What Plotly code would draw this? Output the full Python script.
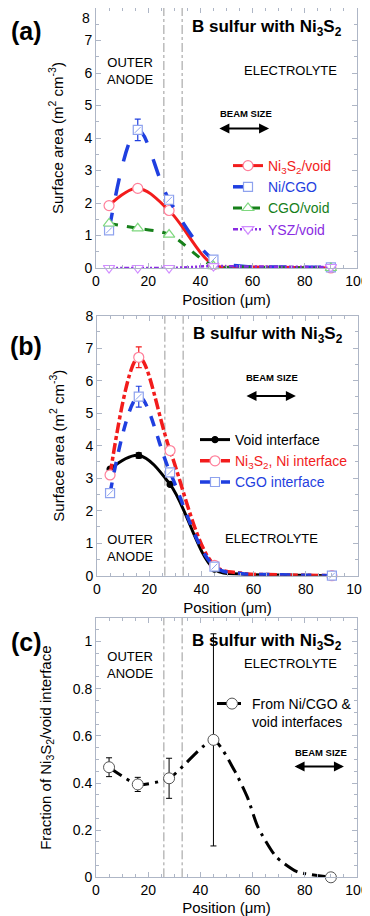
import plotly.graph_objects as go

# ---------------- data ----------------
pos = [5, 16, 28, 45, 90]
tail_x = [55, 70]

# panel (a)
a_ni3s2_void = [1.92, 2.45, 1.77, 0.10, 0.0]
a_ni3s2_void_tail = [0.04, 0.02]
a_ni_cgo = [1.16, 4.25, 2.10, 0.26, 0.02]
a_ni_cgo_err = [None, 0.33, None, None, None]
a_ni_cgo_tail = [0.06, 0.03]
a_cgo_void = [1.37, 1.22, 1.03, 0.06, 0.0]
a_cgo_void_tail = [0.03, 0.01]
a_ysz_void = [0.0, 0.0, 0.0, 0.06, 0.03]
a_ysz_void_tail = [0.05, 0.04]

# panel (b)
b_void = [3.28, 3.70, 2.81, 0.20, 0.0]
b_void_err = [None, 0.08, None, None, None]
b_void_tail = [0.05, 0.02]
b_ni3s2_ni = [3.10, 6.72, 3.85, 0.32, 0.0]
b_ni3s2_ni_err = [None, 0.32, None, None, None]
b_ni3s2_ni_tail = [0.08, 0.03]
b_cgo = [2.54, 5.51, 3.18, 0.28, 0.0]
b_cgo_err = [None, 0.32, None, None, None]
b_cgo_tail = [0.07, 0.03]

# panel (c)
c_frac = [0.467, 0.394, 0.42, 0.583, 0.0]
c_frac_err = [0.04, 0.03, 0.085, 0.45, None]
c_curve_x = [5, 16, 28, 45, 53, 58, 62, 69, 77, 90]
c_curve_y = [0.467, 0.394, 0.42, 0.583, 0.454, 0.34, 0.214, 0.087, 0.024, 0.0]

boundaries = [26, 33]
area_ticks = [0, 1, 2, 3, 4, 5, 6, 7, 8]
frac_ticks = [0, 0.2, 0.4, 0.6, 0.8, 1]
frac_ticktext = ["0", "0.2", "0.4", "0.6", "0.8", "1"]

# ---------------- style ----------------
FONT = "Liberation Sans, Arial, sans-serif"
RED = "#f21c1c"
RED_M = "#ff7f9a"
BLUE = "#1f3fe0"
BLUE_M = "#8ea2ee"
GREEN = "#16801a"
GREEN_M = "#7fd87f"
PURPLE = "#8a2be2"
PURPLE_M = "#d08cff"
FRAME = "#aeb6c6"

# page has an 8px body margin: figure is 362x908 placed at (8, 8)
OFF = 8
W, H = 370 - OFF, 916 - OFF


def fx(px):
    return (px - OFF) / W


def fy(py):
    return min(1.0, 1 - (py - OFF) / H)


fig = go.Figure()


def curve(vals, tail):
    return pos[:4] + tail_x + [pos[4]], vals[:4] + tail + [vals[4]]


def add_series(xa, ya, legend, name, vals, tail, color, dash, width,
               msym, msize, mfill, mline, err=None, slash=False, smooth=1.0):
    cx, cy = curve(vals, tail)
    fig.add_trace(go.Scatter(x=cx, y=cy, mode="lines", xaxis=xa, yaxis=ya,
                             line=dict(color=color, width=width, dash=dash,
                                       shape="spline", smoothing=smooth),
                             showlegend=False, hoverinfo="skip"))
    ey = None
    if err is not None:
        ey = dict(type="data", array=err, visible=True, color=color,
                  thickness=1.2, width=3)
    fig.add_trace(go.Scatter(x=pos, y=vals, mode="markers", xaxis=xa, yaxis=ya,
                             marker=dict(symbol=msym, size=msize, color=mfill,
                                         line=dict(color=mline, width=1.2)),
                             error_y=ey, showlegend=False, cliponaxis=False))
    if slash:
        fig.add_trace(go.Scatter(x=pos, y=vals, mode="markers", xaxis=xa, yaxis=ya,
                                 marker=dict(symbol="line-ne", size=msize - 3,
                                             line=dict(color=mline, width=1)),
                                 showlegend=False, cliponaxis=False, hoverinfo="skip"))
    fig.add_trace(go.Scatter(x=[None], y=[None], mode="lines+markers", xaxis=xa, yaxis=ya,
                             name=name, legend=legend,
                             line=dict(color=color, width=width, dash=dash),
                             marker=dict(symbol=msym, size=msize, color=mfill,
                                         line=dict(color=mline, width=1.2))))


# panel (a)
add_series("x", "y", "legend", f"<span style='color:{RED}'>Ni<sub>3</sub>S<sub>2</sub>/void</span>",
           a_ni3s2_void, a_ni3s2_void_tail, RED, "solid", 3, "circle", 10, "white", RED_M)
add_series("x", "y", "legend", f"<span style='color:{BLUE}'>Ni/CGO</span>",
           a_ni_cgo, a_ni_cgo_tail, BLUE, "longdash", 3.5, "square", 9, "white", BLUE_M,
           err=a_ni_cgo_err, slash=True)
add_series("x", "y", "legend", f"<span style='color:{GREEN}'>CGO/void</span>",
           a_cgo_void, a_cgo_void_tail, GREEN, "dash", 3, "triangle-up", 10, "white", GREEN_M)
add_series("x", "y", "legend", f"<span style='color:{PURPLE}'>YSZ/void</span>",
           a_ysz_void, a_ysz_void_tail, PURPLE, "5px,2px,2px,2px,2px,2px", 2.5,
           "triangle-down", 10, "white", PURPLE_M)

# panel (b)
add_series("x2", "y2", "legend2", "Void interface",
           b_void, b_void_tail, "black", "solid", 3, "circle", 6, "black", "black",
           err=b_void_err)
add_series("x2", "y2", "legend2", f"<span style='color:{RED}'>Ni<sub>3</sub>S<sub>2</sub>, Ni interface</span>",
           b_ni3s2_ni, b_ni3s2_ni_tail, RED, "11px,3px,4px,3px", 3.5, "circle", 10, "white", RED_M,
           err=b_ni3s2_ni_err)
add_series("x2", "y2", "legend2", f"<span style='color:{BLUE}'>CGO interface</span>",
           b_cgo, b_cgo_tail, BLUE, "dash", 3.5, "square", 9, "white", BLUE_M,
           err=b_cgo_err, slash=True)

# panel (c)
fig.add_trace(go.Scatter(x=c_curve_x, y=c_curve_y, mode="lines", xaxis="x3", yaxis="y3",
                         line=dict(color="black", width=3, dash="longdashdot",
                                   shape="spline", smoothing=0.6),
                         showlegend=False, hoverinfo="skip"))
fig.add_trace(go.Scatter(x=pos, y=c_frac, mode="markers", xaxis="x3", yaxis="y3",
                         marker=dict(symbol="circle", size=11, color="white",
                                     line=dict(color="#555555", width=1)),
                         error_y=dict(type="data", array=c_frac_err, visible=True,
                                      color="black", thickness=1, width=3),
                         showlegend=False, cliponaxis=False))
fig.add_trace(go.Scatter(x=[None], y=[None], mode="lines+markers", xaxis="x3", yaxis="y3",
                         name="From Ni/CGO &<br>void interfaces", legend="legend3",
                         line=dict(color="black", width=3, dash="longdashdot"),
                         marker=dict(symbol="circle", size=11, color="white",
                                     line=dict(color="#555555", width=1))))

# ---------------- axes ----------------
axis_common = dict(showline=True, linecolor=FRAME, linewidth=1, mirror="allticks",
                   ticks="inside", ticklen=5, tickcolor=FRAME, showgrid=False,
                   zeroline=False, automargin=False,
                   tickfont=dict(size=14, color="black", family=FONT))
xdom_a = [fx(96), fx(357)]
xdom_b = [fx(97), fx(358)]
xt = dict(range=[0, 100], dtick=20, tick0=0,
          minor=dict(dtick=5, ticks="inside", ticklen=3, tickcolor=FRAME),
          title=dict(text="Position (\u03bcm)", font=dict(size=15, color="black"), standoff=6))
ytitle_area = dict(text="Surface area (m<sup>2</sup> cm<sup>-3</sup>)",
                   font=dict(size=15, color="black"), standoff=17)

fig.update_layout(
    xaxis=dict(domain=xdom_a, anchor="y", **xt, **axis_common),
    # top label of panel (a) sits at the page edge; it is drawn as an annotation below
    yaxis=dict(domain=[fy(268), fy(7)], anchor="x", range=[0, 8],
               tickvals=area_ticks, ticktext=[str(t) for t in area_ticks[:-1]] + [""],
               minor=dict(dtick=0.5, ticks="inside", ticklen=3, tickcolor=FRAME),
               title=ytitle_area, **axis_common),
    xaxis2=dict(domain=xdom_b, anchor="y2", **xt, **axis_common),
    yaxis2=dict(domain=[fy(575.7), fy(315.7)], anchor="x2", range=[0, 8],
                tickvals=area_ticks,
                minor=dict(dtick=0.5, ticks="inside", ticklen=3, tickcolor=FRAME),
                title=ytitle_area, **axis_common),
    xaxis3=dict(domain=xdom_a, anchor="y3", **xt, **axis_common),
    yaxis3=dict(domain=[fy(877.3), fy(618)], anchor="x3", range=[0, 1.1],
                tickvals=frac_ticks, ticktext=frac_ticktext,
                minor=dict(dtick=0.05, ticks="inside", ticklen=3, tickcolor=FRAME),
                title=dict(text="Fraction of Ni<sub>3</sub>S<sub>2</sub>/void interface",
                           font=dict(size=15, color="black"), standoff=17),
                **axis_common),
)

# boundary lines
shapes = []
for xa, ya in [("x", "y"), ("x2", "y2"), ("x3", "y3")]:
    for b in boundaries:
        shapes.append(dict(type="line", xref=xa, yref=f"{ya} domain", x0=b, x1=b, y0=0, y1=1,
                           line=dict(color="#9a9a9a", width=1, dash="dashdot"), layer="below"))
fig.update_layout(shapes=shapes)

# ---------------- annotations ----------------
ann = []
ann.append(dict(xref="paper", yref="paper", x=fx(91), y=fy(9), text=str(area_ticks[-1]),
                xanchor="right", yanchor="top", showarrow=False, borderpad=0,
                font=dict(size=14, color="black")))
title_txt = "<b>B sulfur with Ni<sub>3</sub>S<sub>2</sub></b>"
for xa, ya, ty in [("x", "y", 7.38), ("x2", "y2", 7.4), ("x3", "y3", 1.0)]:
    ann.append(dict(xref=xa, yref=ya, x=65.5, y=ty, text=title_txt, showarrow=False,
                    font=dict(size=17, color="black")))
for lbl, py in [("(a)", 31), ("(b)", 346), ("(c)", 642)]:
    ann.append(dict(xref="paper", yref="paper", x=fx(26), y=fy(py), text=f"<b>{lbl}</b>",
                    xanchor="center", yanchor="middle",
                    showarrow=False, font=dict(size=25, color="black")))
# region labels
for xa, ya, ox, oy, ex, ey in [("x", "y", 13.4, 6.06, 74.7, 6.09),
                               ("x2", "y2", 13.0, 0.85, 67.0, 1.13),
                               ("x3", "y3", 13.4, 0.9, 74.7, 0.906)]:
    ann.append(dict(xref=xa, yref=ya, x=ox, y=oy, text="OUTER<br>ANODE", showarrow=False,
                    font=dict(size=13, color="black")))
    ann.append(dict(xref=xa, yref=ya, x=ex, y=ey, text="ELECTROLYTE", showarrow=False,
                    font=dict(size=13, color="black")))
# beam size
for xa, ya, tx, ty, x0, x1, yy in [("x", "y", 57.5, 4.74, 46.7, 66.3, 4.29),
                                   ("x2", "y2", 67.0, 6.11, 56.7, 76.2, 5.53),
                                   ("x3", "y3", 86.2, 0.53, 75.5, 95.0, 0.47)]:
    ann.append(dict(xref=xa, yref=ya, x=tx, y=ty, text="<b>BEAM SIZE</b>", showarrow=False,
                    font=dict(size=9.5, color="black")))
    ann.append(dict(xref=xa, yref=ya, x=x1, y=yy, ax=x0, ay=yy, axref=xa, ayref=ya, text="",
                    showarrow=True, arrowhead=2, arrowside="end+start", arrowsize=1,
                    arrowwidth=2, arrowcolor="black"))
fig.update_layout(annotations=ann)

leg_common = dict(bgcolor="rgba(0,0,0,0)", borderwidth=0, xanchor="left", yanchor="top",
                  font=dict(size=14, color="black", family=FONT), tracegroupgap=0,
                  itemwidth=30)
fig.update_layout(
    legend=dict(x=fx(228), y=fy(150), **leg_common),
    legend2=dict(x=fx(195), y=fy(424), **leg_common),
    legend3=dict(x=fx(212), y=fy(688), valign="top", **leg_common),
)

fig.update_layout(width=W, height=H, margin=dict(l=0, r=0, t=0, b=0, autoexpand=False),
                  paper_bgcolor="white", plot_bgcolor="white",
                  font=dict(family=FONT, color="black"))

fig.write_html("out.html")
